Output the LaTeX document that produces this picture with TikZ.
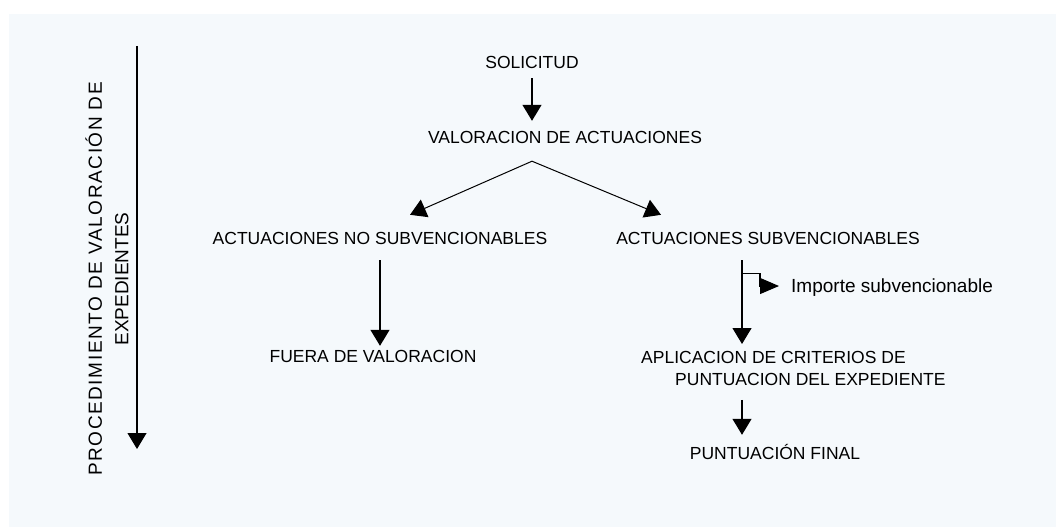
\documentclass[tikz,border=0pt]{standalone}
\usepackage{fontspec}
\setmainfont{Liberation Sans}
\newfontfamily\axisfont[LetterSpace=8.5]{Liberation Sans}
\usetikzlibrary{arrows.meta,positioning,calc}
\definecolor{paper}{RGB}{245,249,252}

\begin{document}
\begin{tikzpicture}[x=1pt, y=-1pt,
            label/.style={inner sep=0pt, text height=13pt, text depth=0pt, font=\fontsize{17.5}{22}\selectfont},
            arrow/.style={-{Triangle[length=16pt, width=19pt]}, line width=1.2pt, black}
        ]
        \useasboundingbox (0,0) rectangle (1056,527);
        \fill[paper] (9,14) rectangle (1056,527);

        % eje del procedimiento
        \coordinate (axtop) at (137,46);
        \coordinate (axend) at (137,449);
        \draw[arrow] (axtop) -- (axend);
        \node[rotate=90, align=center, inner sep=0pt, font=\fontsize{19}{26.5}\selectfont] (proc) at (107,279) {{\axisfont PROCEDIMIENTO DE VALORACIÓN DE}\\EXPEDIENTES};

        % nodos
        \node[label] (sol) at (532,62) {SOLICITUD};
        \node[label] (val) at (565,137) {VALORACION DE ACTUACIONES};
        \node[label] (nosub) at (380,238) {ACTUACIONES NO SUBVENCIONABLES};
        \node[label] (sub) at (768,238) {ACTUACIONES SUBVENCIONABLES};
        \node[label] (fuera) at (373,356) {FUERA DE VALORACION};
        \node[inner sep=0pt, align=left, anchor=north west, font=\fontsize{17.5}{22}\selectfont] (apl) at (641,351) {APLICACION DE CRITERIOS DE\\\hspace*{34pt}PUNTUACION DEL EXPEDIENTE};
        \node[label] (final) at (775,453) {PUNTUACIÓN FINAL};
        \node[label, anchor=west, font=\fontsize{19}{22}\selectfont] (imp) at (791,286) {Importe subvencionable};

        % conectores
        \draw[arrow, shorten <=9.5pt, shorten >=9.5pt] (sol.south) -- (sol.south |- val.north);
        \coordinate (split) at ([yshift=-17.5pt]sol.south |- val.south);
        \draw[arrow, line width=1pt] (split) -- ([xshift=30pt, yshift=16.5pt]nosub.north);
        \draw[arrow, line width=1pt] (split) -- ([xshift=-107pt, yshift=16.5pt]sub.north);
        \draw[arrow, shorten <=15.5pt, shorten >=3.5pt] (nosub.south) -- (nosub.south |- fuera.north);
        \coordinate (rtop) at ([xshift=-26pt, yshift=-15.5pt]sub.south);
        \draw[arrow, shorten >=7pt] (rtop) -- (rtop |- apl.north);
        \draw[-{Triangle[length=19pt, width=16pt]}, line width=1.2pt, shorten >=12pt] ([yshift=-13pt]rtop) -| ([xshift=-31pt]imp.west) -- (imp.west);
        \draw[arrow, shorten <=14pt, shorten >=11.5pt] (rtop |- apl.south) -- (rtop |- final.north);
        \end{tikzpicture}
\end{document}
